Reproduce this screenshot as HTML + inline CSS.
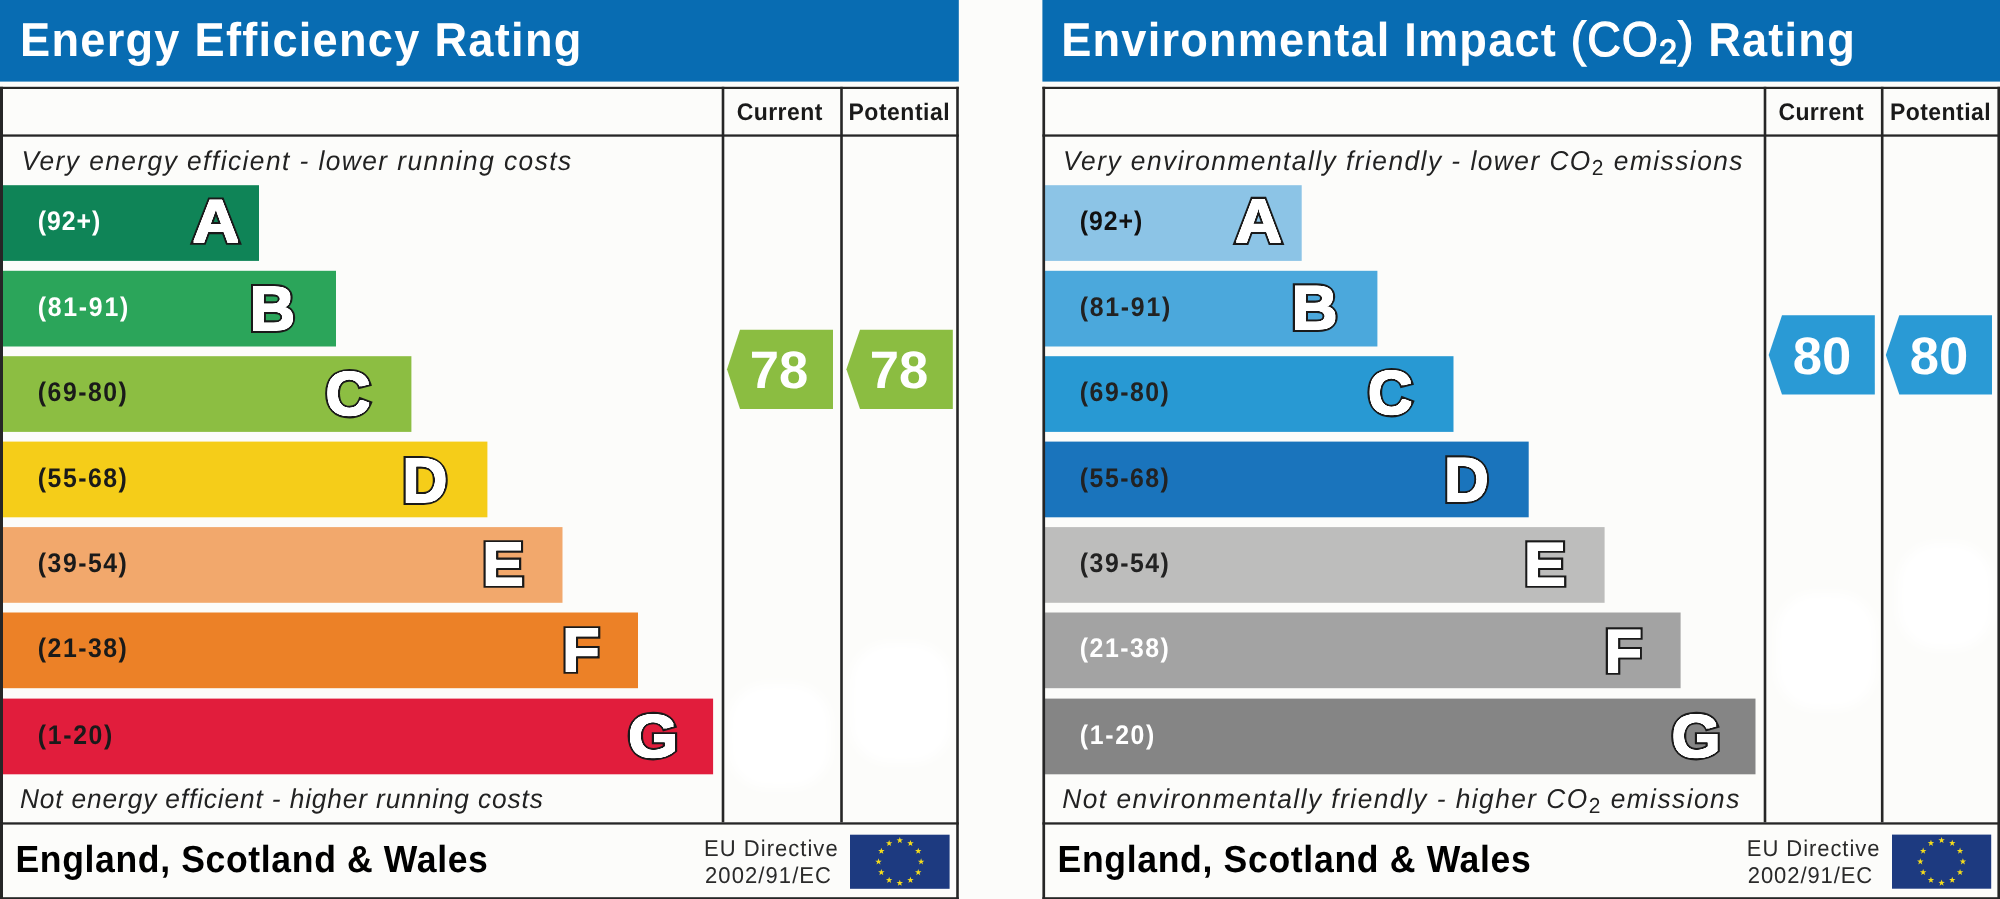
<!DOCTYPE html>
<html><head><meta charset="utf-8"><title>Energy Efficiency Rating</title>
<style>
html,body{margin:0;padding:0;background:#fcfcfa;}
body{width:2000px;height:899px;overflow:hidden;}
svg{display:block;will-change:transform;}
text{font-family:"Liberation Sans", Arial, Helvetica, sans-serif;text-rendering:geometricPrecision;}
.title{font-size:45.2px;font-weight:bold;fill:#fff;}
.treg{font-weight:normal;font-size:46.5px;stroke:#fff;stroke-width:1.2px;}
.tsub{font-size:32.4px;}
.it{font-size:26.3px;font-style:italic;fill:#222222;}
.sub{font-size:21px;font-style:normal;}
.rng{font-size:27px;font-weight:bold;}
.let{font-size:64px;font-weight:bold;fill:#fff;stroke:#1a1a1a;stroke-width:6.0px;paint-order:stroke;stroke-linejoin:miter;stroke-miterlimit:2.5;}
.val{font-size:52.6px;font-weight:bold;fill:#fff;}
.colh{font-size:23px;font-weight:bold;fill:#1a1a1a;}
.esw{font-size:35.6px;font-weight:bold;fill:#000;}
.eu{font-size:22px;fill:#2a2a2a;}
</style></head>
<body>
<svg width="2000" height="899" viewBox="0 0 2000 899">
<defs><filter id="bl" x="-20%" y="-20%" width="140%" height="140%"><feGaussianBlur stdDeviation="5"/></filter>
<filter id="lf" x="-20%" y="-20%" width="140%" height="140%" color-interpolation-filters="sRGB"><feColorMatrix in="SourceGraphic" type="matrix" values="0 0 0 0 1  0 0 0 0 1  0 0 0 0 1  2 0 0 0 -1" result="w"/><feMorphology in="w" operator="dilate" radius="1" result="wd"/><feMerge><feMergeNode in="SourceGraphic"/><feMergeNode in="wd"/></feMerge></filter></defs>
<rect x="0" y="0" width="2000" height="899" fill="#fcfcfa"/>
<g fill="#ffffff" filter="url(#bl)">
<rect x="728" y="684" width="103" height="104" rx="40"/>
<rect x="850" y="643" width="102" height="120" rx="40"/>
<rect x="1776" y="593" width="100" height="116" rx="40"/>
<rect x="1898" y="543" width="95" height="106" rx="40"/>
</g>
<rect x="0" y="0" width="958.8" height="81.6" fill="#086cb2"/>
<rect x="3" y="185.2" width="256" height="75.7" fill="#0f8457"/>
<rect x="3" y="270.8" width="333" height="75.7" fill="#2ba55a"/>
<rect x="3" y="356.2" width="408.4" height="75.7" fill="#8cbe42"/>
<rect x="3" y="441.6" width="484.4" height="75.7" fill="#f5cd19"/>
<rect x="3" y="527.1" width="559.5" height="75.7" fill="#f2a86c"/>
<rect x="3" y="612.5" width="635" height="75.7" fill="#ec8127"/>
<rect x="3" y="698.6" width="710.1" height="75.7" fill="#e11d3c"/>
<text x="0" y="0" class="rng" fill="#ffffff" style="letter-spacing:1.000px" transform="matrix(0.92 0 0 1 37.80 230.10)">(92+)</text>
<text x="0" y="0" class="rng" fill="#ffffff" style="letter-spacing:1.867px" transform="matrix(0.92 0 0 1 37.80 315.70)">(81-91)</text>
<text x="0" y="0" class="rng" fill="#1a1a1a" style="letter-spacing:1.633px" transform="matrix(0.92 0 0 1 37.80 401.10)">(69-80)</text>
<text x="0" y="0" class="rng" fill="#1a1a1a" style="letter-spacing:1.633px" transform="matrix(0.92 0 0 1 37.80 486.50)">(55-68)</text>
<text x="0" y="0" class="rng" fill="#1a1a1a" style="letter-spacing:1.633px" transform="matrix(0.92 0 0 1 37.80 572.00)">(39-54)</text>
<text x="0" y="0" class="rng" fill="#1a1a1a" style="letter-spacing:1.633px" transform="matrix(0.92 0 0 1 37.80 657.40)">(21-38)</text>
<text x="0" y="0" class="rng" fill="#1a1a1a" style="letter-spacing:1.800px" transform="matrix(0.92 0 0 1 37.80 743.50)">(1-20)</text>
<g transform="matrix(1.0118 0 0 0.9474 192.42 241.92)"><text x="0" y="0" class="let" filter="url(#lf)">A</text></g>
<g transform="matrix(0.9806 0 0 0.9789 249.68 329.54)"><text x="0" y="0" class="let" filter="url(#lf)">B</text></g>
<g transform="matrix(0.9741 0 0 0.9667 325.54 414.98)"><text x="0" y="0" class="let" filter="url(#lf)">C</text></g>
<g transform="matrix(0.9786 0 0 0.9808 402.15 501.75)"><text x="0" y="0" class="let" filter="url(#lf)">D</text></g>
<g transform="matrix(0.9747 0 0 0.9522 482.21 584.72)"><text x="0" y="0" class="let" filter="url(#lf)">E</text></g>
<g transform="matrix(0.9580 0 0 0.9525 562.21 671.17)"><text x="0" y="0" class="let" filter="url(#lf)">F</text></g>
<g transform="matrix(1.0078 0 0 0.9475 627.98 756.64)"><text x="0" y="0" class="let" filter="url(#lf)">G</text></g>
<rect x="0" y="86.8" width="958.8" height="2.2" fill="#262626"/>
<rect x="0" y="86.8" width="3" height="812.2" fill="#262626"/>
<rect x="956.1999999999999" y="86.8" width="2.6" height="812.2" fill="#262626"/>
<rect x="0" y="897.2" width="958.8" height="1.7999999999999545" fill="#262626"/>
<rect x="0" y="134.4" width="958.8" height="2.3" fill="#262626"/>
<rect x="0" y="822.3" width="958.8" height="2.3" fill="#262626"/>
<rect x="721.70" y="86.8" width="2.6" height="735.5" fill="#262626"/>
<rect x="840.20" y="86.8" width="2.6" height="735.5" fill="#262626"/>
<polygon points="727,369.35 740,329.8 833,329.8 833,408.9 740,408.9" fill="#8bbd41"/>
<text x="0" y="0" transform="matrix(1.0 0 0 1.0 749.80 388.30)" class="val" style="letter-spacing:0.000px;">78</text>
<polygon points="846.4,369.35 860,329.8 952.8,329.8 952.8,408.9 860,408.9" fill="#8bbd41"/>
<text x="0" y="0" transform="matrix(1.0 0 0 1.0 869.80 388.30)" class="val" style="letter-spacing:0.000px;">78</text>
<rect x="850" y="834.7" width="99.6" height="54.1" fill="#1d3a80"/>
<polygon points="899.80,837.05 900.60,839.35 903.03,839.40 901.09,840.87 901.80,843.20 899.80,841.81 897.80,843.20 898.51,840.87 896.57,839.40 899.00,839.35" fill="#f4dc1c"/>
<polygon points="910.45,839.90 911.25,842.20 913.68,842.25 911.74,843.72 912.45,846.05 910.45,844.66 908.45,846.05 909.16,843.72 907.22,842.25 909.65,842.20" fill="#f4dc1c"/>
<polygon points="918.25,847.70 919.05,850.00 921.48,850.05 919.54,851.52 920.24,853.85 918.25,852.46 916.25,853.85 916.95,851.52 915.01,850.05 917.45,850.00" fill="#f4dc1c"/>
<polygon points="921.10,858.35 921.90,860.65 924.33,860.70 922.39,862.17 923.10,864.50 921.10,863.11 919.10,864.50 919.81,862.17 917.87,860.70 920.30,860.65" fill="#f4dc1c"/>
<polygon points="918.25,869.00 919.05,871.30 921.48,871.35 919.54,872.82 920.24,875.15 918.25,873.76 916.25,875.15 916.95,872.82 915.01,871.35 917.45,871.30" fill="#f4dc1c"/>
<polygon points="910.45,876.80 911.25,879.10 913.68,879.15 911.74,880.62 912.45,882.95 910.45,881.56 908.45,882.95 909.16,880.62 907.22,879.15 909.65,879.10" fill="#f4dc1c"/>
<polygon points="899.80,879.65 900.60,881.95 903.03,882.00 901.09,883.47 901.80,885.80 899.80,884.41 897.80,885.80 898.51,883.47 896.57,882.00 899.00,881.95" fill="#f4dc1c"/>
<polygon points="889.15,876.80 889.95,879.10 892.38,879.15 890.44,880.62 891.15,882.95 889.15,881.56 887.15,882.95 887.86,880.62 885.92,879.15 888.35,879.10" fill="#f4dc1c"/>
<polygon points="881.35,869.00 882.15,871.30 884.59,871.35 882.65,872.82 883.35,875.15 881.35,873.76 879.36,875.15 880.06,872.82 878.12,871.35 880.55,871.30" fill="#f4dc1c"/>
<polygon points="878.50,858.35 879.30,860.65 881.73,860.70 879.79,862.17 880.50,864.50 878.50,863.11 876.50,864.50 877.21,862.17 875.27,860.70 877.70,860.65" fill="#f4dc1c"/>
<polygon points="881.35,847.70 882.15,850.00 884.59,850.05 882.65,851.52 883.35,853.85 881.35,852.46 879.36,853.85 880.06,851.52 878.12,850.05 880.55,850.00" fill="#f4dc1c"/>
<polygon points="889.15,839.90 889.95,842.20 892.38,842.25 890.44,843.72 891.15,846.05 889.15,844.66 887.15,846.05 887.86,843.72 885.92,842.25 888.35,842.20" fill="#f4dc1c"/>
<rect x="1042.4" y="0" width="957.5999999999999" height="81.6" fill="#086cb2"/>
<rect x="1045" y="185.2" width="256.7" height="75.7" fill="#8cc4e6"/>
<rect x="1045" y="270.8" width="332.4" height="75.7" fill="#4ba8dc"/>
<rect x="1045" y="356.2" width="408.5" height="75.7" fill="#2899d3"/>
<rect x="1045" y="441.6" width="483.7" height="75.7" fill="#1a74bc"/>
<rect x="1045" y="527.1" width="559.6" height="75.7" fill="#bdbdbc"/>
<rect x="1045" y="612.5" width="635.6" height="75.7" fill="#a3a3a3"/>
<rect x="1045" y="698.6" width="710.5" height="75.7" fill="#858585"/>
<text x="0" y="0" class="rng" fill="#111111" style="letter-spacing:1.000px" transform="matrix(0.92 0 0 1 1079.80 230.10)">(92+)</text>
<text x="0" y="0" class="rng" fill="#222222" style="letter-spacing:1.867px" transform="matrix(0.92 0 0 1 1079.80 315.70)">(81-91)</text>
<text x="0" y="0" class="rng" fill="#222222" style="letter-spacing:1.633px" transform="matrix(0.92 0 0 1 1079.80 401.10)">(69-80)</text>
<text x="0" y="0" class="rng" fill="#222222" style="letter-spacing:1.633px" transform="matrix(0.92 0 0 1 1079.80 486.50)">(55-68)</text>
<text x="0" y="0" class="rng" fill="#222222" style="letter-spacing:1.633px" transform="matrix(0.92 0 0 1 1079.80 572.00)">(39-54)</text>
<text x="0" y="0" class="rng" fill="#ffffff" style="letter-spacing:1.633px" transform="matrix(0.92 0 0 1 1079.80 657.40)">(21-38)</text>
<text x="0" y="0" class="rng" fill="#ffffff" style="letter-spacing:1.800px" transform="matrix(0.92 0 0 1 1079.80 743.50)">(1-20)</text>
<g transform="matrix(1.0072 0 0 0.9600 1235.18 242.40)"><text x="0" y="0" class="let" filter="url(#lf)">A</text></g>
<g transform="matrix(0.9977 0 0 0.9704 1291.49 328.88)"><text x="0" y="0" class="let" filter="url(#lf)">B</text></g>
<g transform="matrix(0.9692 0 0 0.9665 1367.87 414.40)"><text x="0" y="0" class="let" filter="url(#lf)">C</text></g>
<g transform="matrix(0.9692 0 0 0.9703 1444.09 501.45)"><text x="0" y="0" class="let" filter="url(#lf)">D</text></g>
<g transform="matrix(0.9811 0 0 0.9488 1524.09 584.99)"><text x="0" y="0" class="let" filter="url(#lf)">E</text></g>
<g transform="matrix(0.9594 0 0 0.9488 1604.60 672.09)"><text x="0" y="0" class="let" filter="url(#lf)">F</text></g>
<g transform="matrix(0.9889 0 0 0.9475 1671.52 756.64)"><text x="0" y="0" class="let" filter="url(#lf)">G</text></g>
<rect x="1042.4" y="86.8" width="957.5999999999999" height="2.2" fill="#262626"/>
<rect x="1042.4" y="86.8" width="2.7" height="812.2" fill="#262626"/>
<rect x="1997.4" y="86.8" width="2.6" height="812.2" fill="#262626"/>
<rect x="1042.4" y="897.2" width="957.5999999999999" height="1.7999999999999545" fill="#262626"/>
<rect x="1042.4" y="134.4" width="957.5999999999999" height="2.3" fill="#262626"/>
<rect x="1042.4" y="822.3" width="957.5999999999999" height="2.3" fill="#262626"/>
<rect x="1763.70" y="86.8" width="2.6" height="735.5" fill="#262626"/>
<rect x="1880.90" y="86.8" width="2.6" height="735.5" fill="#262626"/>
<polygon points="1768.7,354.95000000000005 1782,315.3 1874.8,315.3 1874.8,394.6 1782,394.6" fill="#2a9ad5"/>
<text x="0" y="0" transform="matrix(1.0 0 0 1.0 1792.80 374.10)" class="val" style="letter-spacing:0.000px;">80</text>
<polygon points="1885.8,354.95000000000005 1899.3,315.3 1992,315.3 1992,394.6 1899.3,394.6" fill="#2a9ad5"/>
<text x="0" y="0" transform="matrix(1.0 0 0 1.0 1909.80 374.10)" class="val" style="letter-spacing:0.000px;">80</text>
<rect x="1892" y="834.6" width="99.2" height="54.1" fill="#1d3a80"/>
<polygon points="1941.60,836.95 1942.40,839.25 1944.83,839.30 1942.89,840.77 1943.60,843.10 1941.60,841.71 1939.60,843.10 1940.31,840.77 1938.37,839.30 1940.80,839.25" fill="#f4dc1c"/>
<polygon points="1952.25,839.80 1953.05,842.10 1955.48,842.15 1953.54,843.62 1954.25,845.95 1952.25,844.56 1950.25,845.95 1950.96,843.62 1949.02,842.15 1951.45,842.10" fill="#f4dc1c"/>
<polygon points="1960.05,847.60 1960.85,849.90 1963.28,849.95 1961.34,851.42 1962.04,853.75 1960.05,852.36 1958.05,853.75 1958.75,851.42 1956.81,849.95 1959.25,849.90" fill="#f4dc1c"/>
<polygon points="1962.90,858.25 1963.70,860.55 1966.13,860.60 1964.19,862.07 1964.90,864.40 1962.90,863.01 1960.90,864.40 1961.61,862.07 1959.67,860.60 1962.10,860.55" fill="#f4dc1c"/>
<polygon points="1960.05,868.90 1960.85,871.20 1963.28,871.25 1961.34,872.72 1962.04,875.05 1960.05,873.66 1958.05,875.05 1958.75,872.72 1956.81,871.25 1959.25,871.20" fill="#f4dc1c"/>
<polygon points="1952.25,876.70 1953.05,879.00 1955.48,879.05 1953.54,880.52 1954.25,882.85 1952.25,881.46 1950.25,882.85 1950.96,880.52 1949.02,879.05 1951.45,879.00" fill="#f4dc1c"/>
<polygon points="1941.60,879.55 1942.40,881.85 1944.83,881.90 1942.89,883.37 1943.60,885.70 1941.60,884.31 1939.60,885.70 1940.31,883.37 1938.37,881.90 1940.80,881.85" fill="#f4dc1c"/>
<polygon points="1930.95,876.70 1931.75,879.00 1934.18,879.05 1932.24,880.52 1932.95,882.85 1930.95,881.46 1928.95,882.85 1929.66,880.52 1927.72,879.05 1930.15,879.00" fill="#f4dc1c"/>
<polygon points="1923.15,868.90 1923.95,871.20 1926.39,871.25 1924.45,872.72 1925.15,875.05 1923.15,873.66 1921.16,875.05 1921.86,872.72 1919.92,871.25 1922.35,871.20" fill="#f4dc1c"/>
<polygon points="1920.30,858.25 1921.10,860.55 1923.53,860.60 1921.59,862.07 1922.30,864.40 1920.30,863.01 1918.30,864.40 1919.01,862.07 1917.07,860.60 1919.50,860.55" fill="#f4dc1c"/>
<polygon points="1923.15,847.60 1923.95,849.90 1926.39,849.95 1924.45,851.42 1925.15,853.75 1923.15,852.36 1921.16,853.75 1921.86,851.42 1919.92,849.95 1922.35,849.90" fill="#f4dc1c"/>
<polygon points="1930.95,839.80 1931.75,842.10 1934.18,842.15 1932.24,843.62 1932.95,845.95 1930.95,844.56 1928.95,845.95 1929.66,843.62 1927.72,842.15 1930.15,842.10" fill="#f4dc1c"/>
<text x="0" y="0" transform="matrix(1.0 0 0 1.05 20.00 55.90)" class="title" style="letter-spacing:1.261px;">Energy Efficiency Rating</text>
<text x="0" y="0" transform="matrix(1.0 0 0 1.05 1061.25 55.90)" class="title" style="letter-spacing:1.184px">Environmental Impact <tspan class="treg" style="letter-spacing:1.0px">(CO</tspan><tspan class="tsub treg" dy="6.5" style="letter-spacing:1.0px">2</tspan><tspan class="treg" dy="-6.5" style="letter-spacing:1.0px">)</tspan> Rating</text>
<text x="0" y="0" transform="matrix(1.0 0 0 1.033 21.50 169.90)" class="it" style="letter-spacing:1.452px;">Very energy efficient - lower running costs</text>
<text x="0" y="0" transform="matrix(1.0 0 0 1.033 19.90 808.20)" class="it" style="letter-spacing:0.862px;">Not energy efficient - higher running costs</text>
<text x="0" y="0" transform="matrix(1.0 0 0 1.033 1063.00 170.00)" class="it" style="letter-spacing:1.480px">Very environmentally friendly - lower CO<tspan class="sub" dy="5">2</tspan><tspan dy="-5"> emissions</tspan></text>
<text x="0" y="0" transform="matrix(1.0 0 0 1.033 1062.30 808.20)" class="it" style="letter-spacing:1.468px">Not environmentally friendly - higher CO<tspan class="sub" dy="5">2</tspan><tspan dy="-5"> emissions</tspan></text>
<text x="0" y="0" transform="matrix(1.0 0 0 1.043 736.75 120.00)" class="colh" style="letter-spacing:0.417px;">Current</text>
<text x="0" y="0" transform="matrix(1.0 0 0 1.043 848.50 120.00)" class="colh" style="letter-spacing:0.500px;">Potential</text>
<text x="0" y="0" transform="matrix(1.0 0 0 1.06 15.40 871.70)" class="esw" style="letter-spacing:0.633px;">England, Scotland &amp; Wales</text>
<text x="0" y="0" transform="matrix(1.0 0 0 1.037 704.00 855.60)" class="eu" style="letter-spacing:1.036px;">EU Directive</text>
<text x="0" y="0" transform="matrix(1.0 0 0 1.037 705.00 883.20)" class="eu" style="letter-spacing:1.089px;">2002/91/EC</text>
<text x="0" y="0" transform="matrix(1.0 0 0 1.043 1778.50 120.00)" class="colh" style="letter-spacing:0.333px;">Current</text>
<text x="0" y="0" transform="matrix(1.0 0 0 1.043 1890.00 120.00)" class="colh" style="letter-spacing:0.438px;">Potential</text>
<text x="0" y="0" transform="matrix(1.0 0 0 1.06 1057.50 871.70)" class="esw" style="letter-spacing:0.667px;">England, Scotland &amp; Wales</text>
<text x="0" y="0" transform="matrix(1.0 0 0 1.037 1746.80 855.80)" class="eu" style="letter-spacing:0.945px;">EU Directive</text>
<text x="0" y="0" transform="matrix(1.0 0 0 1.037 1747.80 883.30)" class="eu" style="letter-spacing:0.911px;">2002/91/EC</text>
</svg>
</body></html>
